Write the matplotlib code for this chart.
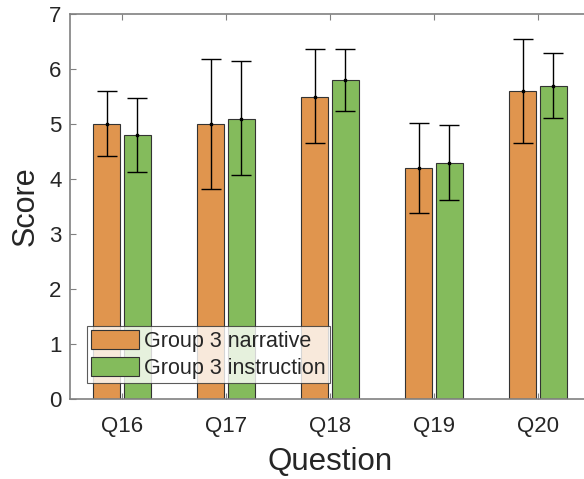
import matplotlib.pyplot as plt
import numpy as np

plt.rcParams['font.family'] = ['Liberation Sans', 'DejaVu Sans']

questions = ["Q16", "Q17", "Q18", "Q19", "Q20"]
narrative = [5.0, 5.0, 5.5, 4.2, 5.6]
narrative_lo = [4.42, 3.82, 4.66, 3.38, 4.66]
narrative_hi = [5.60, 6.18, 6.36, 5.02, 6.55]
instruction = [4.8, 5.1, 5.8, 4.3, 5.7]
instruction_lo = [4.13, 4.07, 5.24, 3.61, 5.11]
instruction_hi = [5.47, 6.15, 6.37, 4.98, 6.30]

orange = "#E0954E"
green = "#84BB5C"
axcol = "#808080"
txtcol = "#262626"

x = np.arange(1, len(questions) + 1)
w = 0.26
off = 0.145

fig = plt.figure(figsize=(5.84, 4.79), dpi=100)
# axes run past the right edge of the image like the original export
ax = fig.add_axes([70 / 584, 80 / 479, 520 / 584, 385 / 479])

n = np.array(narrative)
i = np.array(instruction)
ax.bar(x - off, n, w, color=orange, edgecolor="#333333", linewidth=0.8,
       label="Group 3 narrative", zorder=2)
ax.bar(x + off, i, w, color=green, edgecolor="#333333", linewidth=0.8,
       label="Group 3 instruction", zorder=2)

ax.errorbar(x - off, n, yerr=[n - np.array(narrative_lo), np.array(narrative_hi) - n],
            fmt="s", color="black", markersize=2, ecolor="black", elinewidth=1,
            capsize=7, capthick=1, zorder=3)
ax.errorbar(x + off, i, yerr=[i - np.array(instruction_lo), np.array(instruction_hi) - i],
            fmt="s", color="black", markersize=2, ecolor="black", elinewidth=1,
            capsize=7, capthick=1, zorder=3)

ax.set_xlim(0.5, 5.5)
ax.set_ylim(0, 7)
ax.set_xticks(x)
ax.set_xticklabels(questions)
ax.set_yticks(range(0, 8))

for s in ax.spines.values():
    s.set_color(axcol)
    s.set_linewidth(1.2)
ax.tick_params(direction="in", length=4, color=axcol, labelcolor=txtcol,
               labelsize=16, top=True, right=True)
ax.tick_params(axis="x", pad=12)
ax.tick_params(axis="y", pad=6)

ax.set_xlabel("Question", fontsize=22.5, color=txtcol, labelpad=7.5)
ax.set_ylabel("Score", fontsize=22, color=txtcol, labelpad=6)

leg = ax.legend(loc="lower left", bbox_to_anchor=(0.033, 0.042), fontsize=15.5,
                frameon=True, fancybox=False, edgecolor="#333333",
                borderpad=0.2, handlelength=2.2, handleheight=1.0,
                handletextpad=0.25, labelspacing=0.2, borderaxespad=0)
leg.get_frame().set_linewidth(0.8)
for t in leg.get_texts():
    t.set_color(txtcol)

fig.savefig("out.png", dpi=100)
